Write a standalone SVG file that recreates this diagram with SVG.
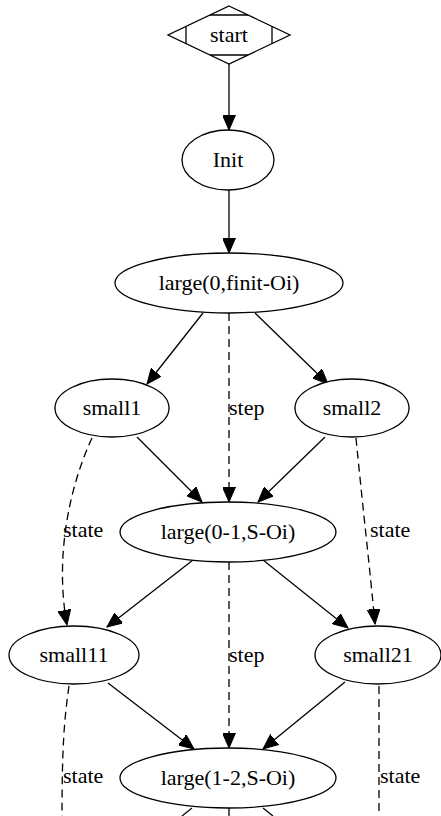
<svg xmlns="http://www.w3.org/2000/svg" width="441" height="816" viewBox="0 0 441 816">
  <style>
    .node { fill: #ffffff; stroke: #000000; stroke-width: 1.3; }
    .mark { fill: none; stroke: #000000; stroke-width: 1.3; }
    .label { font-family: "Liberation Serif", "Times New Roman", serif; font-size: 22px; fill: #000000; }
    .center { text-anchor: middle; }
    .edge { fill: none; stroke: #000000; stroke-width: 1.3; marker-end: url(#arrow); }
    .open { fill: none; stroke: #000000; stroke-width: 1.3; }
    .dashed { stroke-dasharray: 8 5; }
  </style>
  <defs>
    <marker id="arrow" markerUnits="userSpaceOnUse" markerWidth="16" markerHeight="13" refX="15" refY="6.5" orient="auto">
      <path d="M0,0 L15,6.5 L0,13 z" fill="#000000" stroke="#000000" stroke-width="1"/>
    </marker>
  </defs>
  <rect width="441" height="816" fill="#ffffff"/>

  <g id="edges">
    <!-- start -> Init -> large(0,finit-Oi) -->
    <path class="edge" d="M229,64 L229,130"/>
    <path class="edge" d="M229,190 L229,253"/>
    <!-- large(0,finit-Oi) fan-out -->
    <path class="edge" d="M203,313 L147,384"/>
    <path class="edge" d="M255,313 L328,384"/>
    <path class="edge dashed" d="M229,313 L229,502"/>
    <!-- small1 / small2 -> large(0-1,S-Oi) -->
    <path class="edge" d="M137,437 L202,502"/>
    <path class="edge" d="M325,437 L258,502"/>
    <!-- state edges -->
    <path class="edge dashed" d="M92,438 C68,490 55,560 67,625"/>
    <path class="edge dashed" d="M356,438 C362,500 370,570 375,624"/>
    <!-- large(0-1,S-Oi) fan-out -->
    <path class="edge" d="M193,560 L107,627"/>
    <path class="edge" d="M263,560 L348,628"/>
    <path class="edge dashed" d="M229,562 L229,748"/>
    <!-- small11 / small21 -> large(1-2,S-Oi) -->
    <path class="edge" d="M108,683 L194,749"/>
    <path class="edge" d="M345,682 L263,749"/>
    <!-- continuing edges -->
    <path class="open dashed" d="M69,686 C64,720 62,750 62,816"/>
    <path class="open dashed" d="M379,686 L379,816"/>
    <path class="open" d="M192,808 L182,816"/>
    <path class="open" d="M229,808 L229,816"/>
    <path class="open" d="M263,808 L273,816"/>
  </g>

  <g id="edge-labels">
    <text class="label" x="229" y="415">step</text>
    <text class="label" x="63" y="537">state</text>
    <text class="label" x="370" y="537">state</text>
    <text class="label" x="229" y="662">step</text>
    <text class="label" x="63" y="783">state</text>
    <text class="label" x="380" y="783">state</text>
  </g>

  <g id="start">
    <polygon class="node" points="229,6 290,35 229,64 168,35"/>
    <path class="mark" d="M210,15 L248,15 M210,55 L248,55 M186,26.5 L186,43.5 M272,26.5 L272,43.5"/>
    <text class="label center" x="229" y="42">start</text>
  </g>
  <g id="init">
    <ellipse class="node" cx="228" cy="160" rx="46" ry="30"/>
    <text class="label center" x="228" y="167">Init</text>
  </g>
  <g id="large0">
    <ellipse class="node" cx="229" cy="283" rx="114" ry="30"/>
    <text class="label center" x="229" y="290">large(0,finit-Oi)</text>
  </g>
  <g id="small1">
    <ellipse class="node" cx="112" cy="408" rx="57" ry="29"/>
    <text class="label center" x="112" y="415">small1</text>
  </g>
  <g id="small2">
    <ellipse class="node" cx="352" cy="408" rx="57" ry="29"/>
    <text class="label center" x="352" y="415">small2</text>
  </g>
  <g id="large01">
    <ellipse class="node" cx="228" cy="532" rx="108" ry="30"/>
    <text class="label center" x="228" y="539">large(0-1,S-Oi)</text>
  </g>
  <g id="small11">
    <ellipse class="node" cx="74" cy="655" rx="65" ry="29"/>
    <text class="label center" x="74" y="662">small11</text>
  </g>
  <g id="small21">
    <ellipse class="node" cx="378" cy="655" rx="63" ry="29"/>
    <text class="label center" x="378" y="662">small21</text>
  </g>
  <g id="large12">
    <ellipse class="node" cx="228" cy="778" rx="108" ry="30"/>
    <text class="label center" x="228" y="785">large(1-2,S-Oi)</text>
  </g>
</svg>
